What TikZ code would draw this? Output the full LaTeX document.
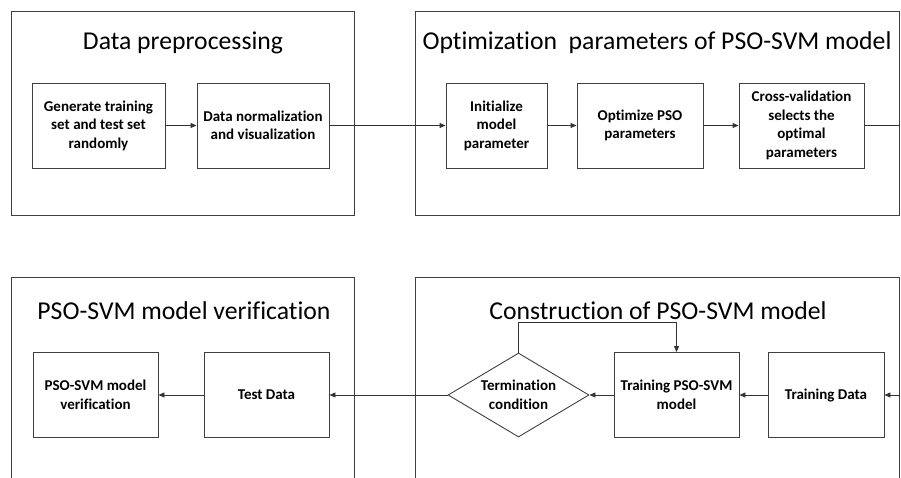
\documentclass[tikz,border=0pt]{standalone}
\usepackage{fontspec}
\setmainfont[Ligatures=NoCommon]{Carlito}
\usetikzlibrary{shapes.geometric,arrows.meta}
\begin{document}
\begin{tikzpicture}[x=1pt,y=-1pt,
  frame/.style={draw=black!75,line width=1pt},
  ftitle/.style={font=\fontsize{25.7}{30}\selectfont,inner sep=0pt,anchor=base},
  box/.style={draw=black!75,line width=0.9pt,minimum height=85pt,align=center,
    font=\bfseries\fontsize{15}{18.5}\selectfont,inner sep=2pt},
  dia/.style={diamond,draw=black!75,line width=0.9pt,minimum width=141pt,minimum height=84pt,
    aspect=1.68,inner sep=0pt,align=center,font=\bfseries\fontsize{15}{18.5}\selectfont},
  arr/.style={draw=black!80,line width=0.9pt,-{Triangle[length=6pt,width=5pt]}},
  ln/.style={draw=black!80,line width=0.9pt}]
\useasboundingbox (0,0) rectangle (901,477);
\begin{scope}
\clip (0,0) rectangle (901,477);
% frames
\draw[frame] (11.5,11.5) rectangle (354.5,215.5);
\draw[frame] (415.5,11.5) rectangle (899.5,215.5);
\draw[frame] (11.5,277.5) rectangle (354.5,500);
\draw[frame] (415.5,277.5) rectangle (899.5,500);
\end{scope}
% titles
\node[ftitle] (t1) at (183,49) {Data preprocessing};
\node[ftitle] (t2) at (657,49) {Optimization\ \ parameters of PSO-SVM model};
\node[ftitle] (t3) at (184,319) {PSO-SVM model verification};
\node[ftitle] (t4) at (658,319) {Construction of PSO-SVM model};
% top row boxes
\node[box,minimum width=133pt] (gen) at (98.5,125.5) {Generate training\\set and test set\\randomly};
\node[box,minimum width=132pt] (norm) at (263,125.5) {Data normalization\\and visualization};
\node[box,minimum width=101pt] (init) at (496.5,125.5) {Initialize\\model\\parameter};
\node[box,minimum width=126pt] (opt) at (640,125.5) {Optimize PSO\\parameters};
\node[box,minimum width=125pt] (cross) at (801.5,125.5) {Cross-validation\\selects the\\optimal\\parameters};
\coordinate (out1) at (900,125.5);
% bottom row
\node[box,minimum width=125pt] (ver) at (95.5,395) {PSO-SVM model\\verification};
\node[box,minimum width=125pt] (test) at (266.5,395) {Test Data};
\node[dia] (term) at (518.5,395) {Termination\\condition};
\node[box,minimum width=125pt] (train) at (676.5,395) {Training PSO-SVM\\model};
\node[box,minimum width=116pt] (tdata) at (826,395) {Training Data};
\coordinate (in2) at (900,395);
% connectors
\draw[arr] (gen) -- (norm);
\draw[arr] (norm) -- (init);
\draw[arr] (init) -- (opt);
\draw[arr] (opt) -- (cross);
\draw[ln] (cross) -- (out1);
\draw[arr] (in2) -- (tdata);
\draw[arr] (tdata) -- (train);
\draw[arr] (train) -- (term);
\draw[arr] (term.north) -- ++(0,-30) -| (train.north);
\draw[arr] (term) -- (test);
\draw[arr] (test) -- (ver);
\end{tikzpicture}
\end{document}
